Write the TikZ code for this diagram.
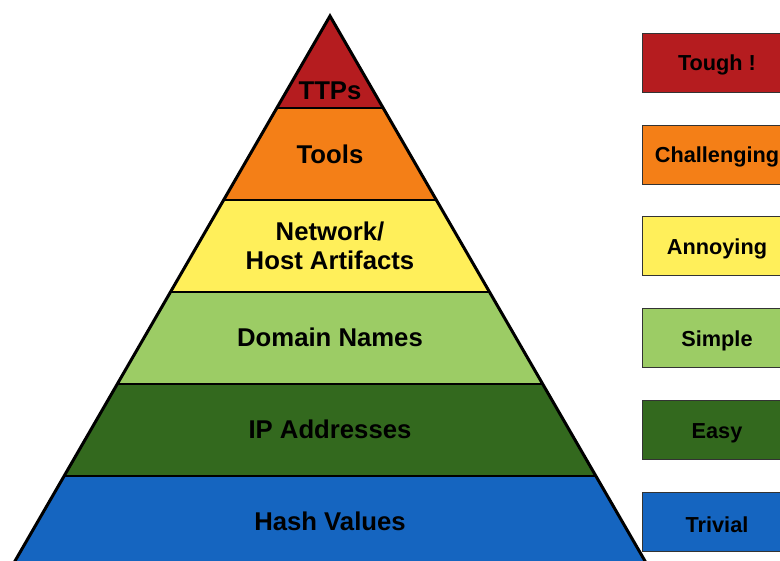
\documentclass[tikz,border=0pt]{standalone}
\usepackage{fontspec}
\setmainfont{Liberation Sans}
\definecolor{cred}{HTML}{B51C1F}
\definecolor{corange}{HTML}{F47F17}
\definecolor{cyellow}{HTML}{FFEF5A}
\definecolor{clgreen}{HTML}{9CCC65}
\definecolor{cdgreen}{HTML}{33691E}
\definecolor{cblue}{HTML}{1565C0}
\begin{document}
\begin{tikzpicture}[x=1pt,y=-1pt,
  band/.style={draw=black,line width=1.3pt},
  pyrtext/.style={font=\bfseries\fontsize{25.7}{29.5}\selectfont,align=center,text=black},
  lvlbox/.style={draw=black!80,line width=0.9pt,minimum width=150pt,minimum height=59pt,inner sep=0pt},
  lvltext/.style={font=\bfseries\fontsize{21.7}{25}\selectfont,text=black}]
\useasboundingbox (0,0) rectangle (780,561);
\begin{scope}
\clip (0,0) rectangle (780,561);
% bands
\fill[cred] (330,16) -- (383.2,108) -- (276.8,108) -- cycle;
\fill[corange] (276.8,108) -- (383.2,108) -- (436.4,200) -- (223.6,200) -- cycle;
\fill[cyellow] (223.6,200) -- (436.4,200) -- (489.5,292) -- (170.5,292) -- cycle;
\fill[clgreen] (170.5,292) -- (489.5,292) -- (542.7,384) -- (117.3,384) -- cycle;
\fill[cdgreen] (117.3,384) -- (542.7,384) -- (595.9,476) -- (64.1,476) -- cycle;
\fill[cblue] (64.1,476) -- (595.9,476) -- (650.2,570) -- (9.8,570) -- cycle;
\draw[band] (276.8,108) -- (383.2,108);
\draw[band] (223.6,200) -- (436.4,200);
\draw[band] (170.5,292) -- (489.5,292);
\draw[band] (117.3,384) -- (542.7,384);
\draw[band] (64.1,476) -- (595.9,476);
\draw[black,line width=3pt,line join=miter] (9.8,570) -- (330,16) -- (650.2,570);
% right boxes
\node[lvlbox,fill=cred,anchor=north west] (b1) at (642,33) {};
\node[lvlbox,fill=corange,anchor=north west] (b2) at (642,125) {};
\node[lvlbox,fill=cyellow,anchor=north west] (b3) at (642,216) {};
\node[lvlbox,fill=clgreen,anchor=north west] (b4) at (642,308) {};
\node[lvlbox,fill=cdgreen,anchor=north west] (b5) at (642,400) {};
\node[lvlbox,fill=cblue,anchor=north west] (b6) at (642,492) {};
\end{scope}
\node[pyrtext] (t1) at (330,91) {TTPs};
\node[pyrtext] (t2) at (330,154) {Tools};
\node[pyrtext] (t3) at (330,246) {Network/\\Host Artifacts};
\node[pyrtext] (t4) at (330,337) {Domain Names};
\node[pyrtext] (t5) at (330,429) {IP Addresses};
\node[pyrtext] (t6) at (330,521) {Hash Values};
\node[lvltext] (l1) at (717,65) {Tough !};
\node[lvltext] (l2) at (717,157) {Challenging};
\node[lvltext] (l3) at (717,249) {Annoying};
\node[lvltext] (l4) at (717,341) {Simple};
\node[lvltext] (l5) at (717,433) {Easy};
\node[lvltext] (l6) at (717,525) {Trivial};
\end{tikzpicture}
\end{document}
